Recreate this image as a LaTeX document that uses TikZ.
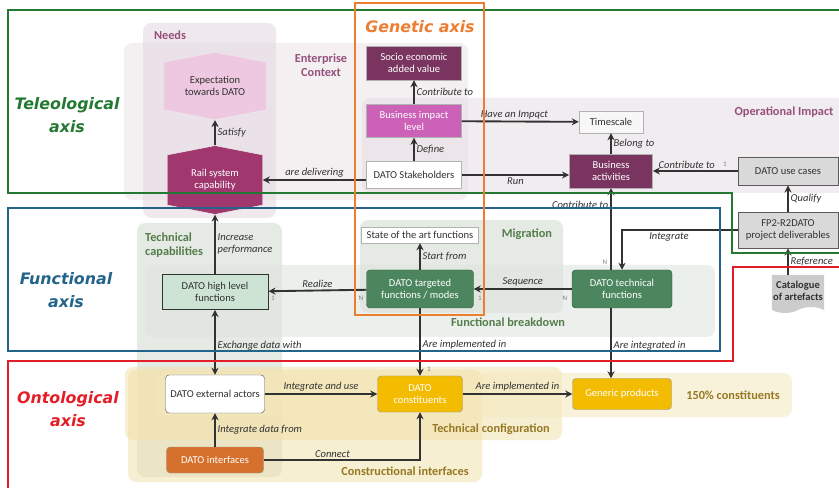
\documentclass[tikz,border=0pt]{standalone}
\usepackage{fontspec}
\setmainfont{Carlito}
\newfontfamily\axisfont{DejaVu Sans}
\usetikzlibrary{arrows.meta,shapes.symbols}
\newcommand{\nodefont}{\fontsize{9}{10}\selectfont}
\newcommand{\relfont}{\fontsize{9}{10}\selectfont\itshape}
\definecolor{verdecito}{RGB}{35,120,50}
\definecolor{azulcito}{RGB}{35,100,140}
\definecolor{rojito}{RGB}{228,30,40}
\definecolor{naranjita}{RGB}{237,125,49}
\definecolor{moradito}{RGB}{122,52,96}
\definecolor{rosita}{RGB}{203,98,184}
\definecolor{rosapalido}{RGB}{238,200,224}
\definecolor{frambuesa}{RGB}{160,55,110}
\definecolor{verdefun}{RGB}{76,134,94}
\definecolor{verdeclarito}{RGB}{205,228,212}
\definecolor{dorado}{RGB}{244,188,0}
\definecolor{naranjon}{RGB}{214,112,45}
\definecolor{grisrosa}{RGB}{226,216,224}
\definecolor{grisverde}{RGB}{208,218,206}
\definecolor{beige}{RGB}{242,226,172}
\definecolor{tituloctx}{RGB}{150,80,125}
\definecolor{titulofun}{RGB}{85,125,75}
\definecolor{tituloont}{RGB}{150,120,35}
\definecolor{lineita}{RGB}{50,50,50}
\tikzset{>={Stealth[length=6pt,width=6pt]}}

\begin{document}
\begin{tikzpicture}[x=0.03cm,y=-0.03cm,
	caja/.style={draw=gray!60, align=center, font=\nodefont, inner sep=1pt, minimum width=2.85cm},
	cajagris/.style={caja, fill=gray!30, draw=lineita!80, thick, text=lineita},
	fun/.style={caja, draw=verdefun!70!black, fill=verdefun, text=white, rounded corners=3pt, minimum width=3.21cm, minimum height=1.14cm},
	onto/.style={caja, draw=black!40, text=white, rounded corners=3pt},
	hexa/.style={signal, signal to=north and south, signal pointer angle=158, align=center, font=\nodefont, draw=white!85!gray, minimum height=1.83cm},
	rel/.style={->, line width=1.6pt, lineita},
	lbl/.style={font=\relfont, text=lineita, inner sep=1.5pt},
	card/.style={font=\fontsize{6}{6}\selectfont, text=gray, inner sep=0pt},
	grupo/.style={rounded corners=7pt, fill opacity=0.55},
	gtitle/.style={font=\fontsize{10.5}{12}\selectfont\bfseries, align=center, inner sep=0pt},
	marco/.style={line width=2pt},
	axislbl/.style={font=\axisfont\fontsize{13.5}{20}\selectfont\bfseries\itshape, align=center}]

	\fill[white] (0,0) rectangle (839,488);
	\useasboundingbox (0,0) rectangle (839,488);

	\fill[grupo, fill=grisrosa!70] (124,43) rectangle (468,200);
	\fill[grupo, fill=grisrosa!85] (362,98) rectangle (845,193);
	\fill[grupo, fill=grisrosa] (143,23) rectangle (276,218);
	\fill[grupo, fill=grisverde] (137,223) rectangle (282,477);
	\fill[grupo, fill=grisverde] (360,220) rectangle (563,313);
	\fill[grupo, fill=grisverde!70] (145,265) rectangle (715,337);
	\fill[grupo, fill=beige] (125,367) rectangle (562,440);
	\fill[grupo, fill=beige] (128,370) rectangle (482,482);
	\fill[grupo, fill=beige!80] (157,373) rectangle (792,417);

	\node[gtitle, text=tituloctx] (needs) at (170,35) {Needs};
	\node[gtitle, text=tituloctx] (entctx) at (321,65) {Enterprise\\Context};
	\node[gtitle, text=tituloctx] (opimp) at (784,112) {Operational Impact};
	\node[gtitle, text=titulofun, align=left, anchor=west] (techcap) at (145,245) {Technical\\capabilities};
	\node[gtitle, text=titulofun] (migr) at (527,234) {Migration};
	\node[gtitle, text=titulofun] (fbreak) at (508,322) {Functional breakdown};
	\node[gtitle, text=tituloont] (tconf) at (491,429) {Technical configuration};
	\node[gtitle, text=tituloont] (cinter) at (405,471) {Constructional interfaces};
	\node[gtitle, text=tituloont] (pcons) at (733,395) {150\% constituents};

	\node[hexa, fill=rosapalido, text=lineita, minimum width=3.06cm] (expect) at (215,86) {Expectation\\towards DATO};
	\node[hexa, fill=frambuesa, text=white, minimum width=2.85cm] (rail) at (215,180) {Rail system\\capability};
	\node[caja, fill=moradito, text=white, minimum height=1.02cm] (socio) at (414,63) {Socio economic\\added value};
	\node[caja, fill=rosita, text=white, minimum height=0.99cm] (bimpact) at (414,121) {Business impact\\level};
	\node[caja, fill=white, text=lineita, minimum height=0.81cm] (stake) at (414,175) {DATO Stakeholders};
	\node[caja, fill=gray!6, text=lineita, minimum width=1.92cm, minimum height=0.66cm] (timescale) at (611,122) {Timescale};
	\node[caja, fill=moradito, text=white, minimum width=2.5cm, minimum height=1.02cm] (bact) at (611,171) {Business\\activities};
	\node[cajagris, minimum width=3cm, minimum height=0.84cm] (usecases) at (788,171) {DATO use cases};
	\node[cajagris, minimum width=3cm, minimum height=1.08cm] (fp2) at (788,230) {FP2-R2DATO\\project deliverables};
	\node[tape, tape bend top=none, fill=gray!40, text=lineita, font=\nodefont\bfseries, align=center, inner sep=1pt, minimum width=1.5cm, minimum height=1.14cm] (cat) at (798,291) {Catalogue\\of artefacts};
	\node[caja, fill=white, text=lineita, minimum width=3.5cm, minimum height=0.48cm] (soa) at (420,235) {State of the art functions};
	\node[fun] (targeted) at (420,289) {DATO targeted\\functions / modes};
	\node[fun, minimum width=3cm] (tech) at (622,289) {DATO technical\\functions};
	\node[caja, fill=verdeclarito, draw=lineita, thick, text=lineita, minimum width=3.18cm, minimum height=1.05cm] (high) at (215,292) {DATO high level\\functions};
	\node[onto, fill=white, draw=gray!70!black, text=lineita, minimum width=2.97cm, minimum height=1.14cm] (ext) at (215,394) {DATO external actors};
	\node[onto, fill=dorado, minimum width=2.55cm, minimum height=1.08cm] (const) at (420,394) {DATO\\constituents};
	\node[onto, fill=dorado, minimum width=2.97cm, minimum height=0.93cm] (generic) at (622,394) {Generic products};
	\node[onto, fill=naranjon, minimum width=2.91cm, minimum height=0.78cm] (iface) at (215,460) {DATO interfaces};

	\draw[rel] (rail.north) -- node[lbl, right] {Satisfy} (expect.south);
	\draw[rel] (stake.west |- rail.east) -- node[lbl, above] {are delivering} (rail.east);
	\draw[rel] (stake) -- node[lbl, right] {Define} (bimpact);
	\draw[rel] (bimpact) -- node[lbl, right] {Contribute to} (socio);
	\draw[rel] (bimpact) -- node[lbl, above, pos=0.45] {Have an Impqct} (timescale);
	\draw[rel] (stake.east) -- node[lbl, below] {Run} (bact.west |- stake.east);
	\draw[rel] (bact) -- node[lbl, right] {Belong to} (timescale);
	\draw[rel] (usecases) -- node[lbl, above, pos=0.6] {Contribute to} (bact);
	\draw[rel] (fp2) -- node[lbl, right] {Qualify} (usecases);
	\draw[rel] (cat.north -| fp2.south) -- node[lbl, right] {Reference} (fp2.south);
	\draw[rel] (fp2.west) -| node[lbl, below left, pos=0.2] {Integrate} (tech.north);
	\draw[rel] (tech.north -| bact) -- node[lbl, left, pos=0.8] {Contribute to} (bact.south);
	\draw[rel] (tech) -- node[lbl, above] {Sequence} (targeted);
	\draw[rel] (targeted) -- node[lbl, above] {Realize} (high);
	\draw[rel] (targeted) -- node[lbl, right] {Start from} (soa);
	\draw[rel] (high.north) -- node[lbl, right, align=left] {Increase\\performance} (rail.south);
	\draw[rel, <->] (high) -- node[lbl, right, pos=0.55] {Exchange data with} (ext);
	\draw[rel] (targeted) -- node[lbl, right, pos=0.54] {Are implemented in} (const);
	\draw[rel] (tech.south -| bact) -- node[lbl, right, pos=0.53] {Are integrated in} (generic.north -| bact);
	\draw[rel] (ext) -- node[lbl, above] {Integrate and use} (const);
	\draw[rel] (const) -- node[lbl, above] {Are implemented in} (generic);
	\draw[rel] (iface) -- node[lbl, right] {Integrate data from} (ext);
	\draw[rel] (iface.east) -| node[lbl, above, pos=0.22] {Connect} (const.south);

	\node[card] (m1) at (725,164) {1};
	\node[card] (m2) at (605,262) {N};
	\node[card] (m3) at (565,298) {N};
	\node[card] (m4) at (480,298) {1};
	\node[card] (m5) at (361,298) {N};
	\node[card] (m6) at (273,298) {1};
	\node[card] (m7) at (429,369) {1};

	\draw[marco, verdecito] (845,253) -- (732,253) -- (732,193) -- (8,193) -- (8,10) -- (845,10);
	\draw[marco, azulcito] (8,208) rectangle (720,351);
	\draw[marco, rojito] (845,267) -- (733,267) -- (733,361) -- (8,361) -- (8,495);
	\draw[marco, naranjita] (355,3) rectangle (484,315);

	\node[axislbl, text=verdecito] (teleo) at (67,115) {Teleological\\axis};
	\node[axislbl, text=naranjita] (genet) at (420,27) {Genetic axis};
	\node[axislbl, text=azulcito] (funct) at (66,290) {Functional\\axis};
	\node[axislbl, text=rojito] (ontol) at (68,409) {Ontological\\axis};

\end{tikzpicture}
\end{document}
